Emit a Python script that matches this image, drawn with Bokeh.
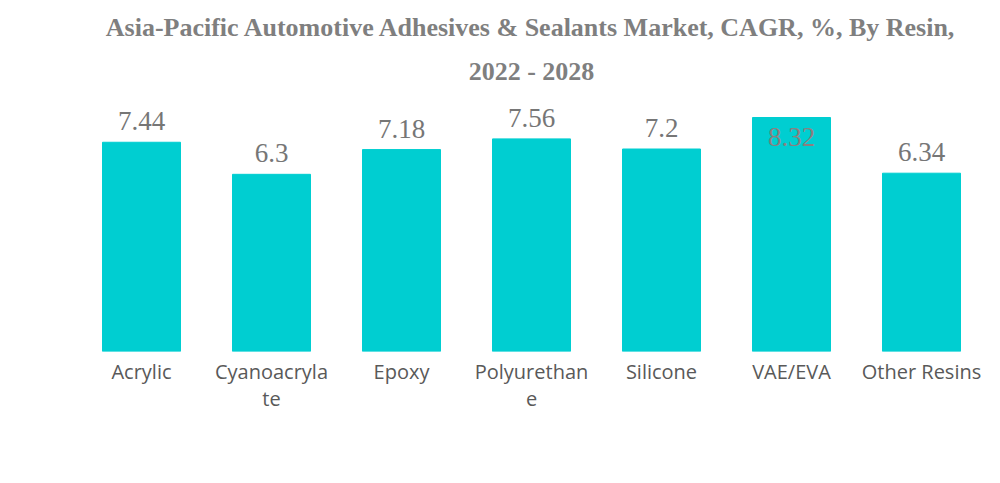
from bokeh.plotting import figure
from bokeh.models import ColumnDataSource, Range1d, FactorRange, Title
from bokeh.embed import file_html
from bokeh.resources import INLINE
from bokeh.core.properties import value

categories = ["Acrylic", "Cyanoacryla\nte", "Epoxy", "Polyurethan\ne", "Silicone", "VAE/EVA", "Other Resins"]
cagr = [7.44, 6.3, 7.18, 7.56, 7.2, 8.32, 6.34]
labels = ["7.44", "6.3", "7.18", "7.56", "7.2", "8.32", "6.34"]
title_lines = ["Asia-Pacific Automotive Adhesives & Sealants Market, CAGR, %, By Resin,", "2022 - 2028"]

top_val = max(cagr)
inside = [v == top_val for v in cagr]

src_out = ColumnDataSource(dict(x=[c for c, i in zip(categories, inside) if not i],
                                y=[v for v, i in zip(cagr, inside) if not i],
                                t=[l for l, i in zip(labels, inside) if not i]))
src_in = ColumnDataSource(dict(x=[c for c, i in zip(categories, inside) if i],
                               y=[v for v, i in zip(cagr, inside) if i],
                               t=[l for l, i in zip(labels, inside) if i]))

p = figure(x_range=FactorRange(*categories, range_padding=0), y_range=Range1d(0, top_val * 251 / 234),
           width=992, height=475, output_backend="svg", toolbar_location=None,
           min_border_left=76, min_border_right=6, min_border_top=100, min_border_bottom=124)
p.x_range.factor_padding = 0

def add_title(text, standoff):
    t = Title(text=text, align="center", text_font="Liberation Serif", text_font_style="bold",
              text_font_size="26px", text_color="#7f7f7f", standoff=standoff)
    p.add_layout(t, "above")

add_title(title_lines[1], 30)
add_title(title_lines[0], -5)

p.vbar(x=categories, top=cagr, width=0.6, color="#00CED1")

p.text(x="x", y="y", text="t", source=src_out, text_align="center", text_baseline="alphabetic",
       y_offset=-21, text_font=value("Liberation Serif"), text_font_size="27px", text_color="#767676")
p.text(x="x", y="y", text="t", source=src_in, text_align="center", text_baseline="alphabetic",
       y_offset=19, text_font=value("Liberation Serif"), text_font_size="27px", text_color="#8c7f7f")

p.yaxis.visible = False
p.xgrid.visible = False
p.ygrid.visible = False
p.outline_line_color = None
p.xaxis.axis_line_color = None
p.xaxis.major_tick_line_color = None
p.xaxis.minor_tick_line_color = None
p.xaxis.major_label_text_font = "Source Sans Pro, Open Sans"
p.xaxis.major_label_text_font_size = "20px"
p.xaxis.major_label_text_color = "#595959"
p.xaxis.major_label_text_line_height = 1.0
p.xaxis.major_label_standoff = 0

open("out.html", "w").write(file_html(p, INLINE))
